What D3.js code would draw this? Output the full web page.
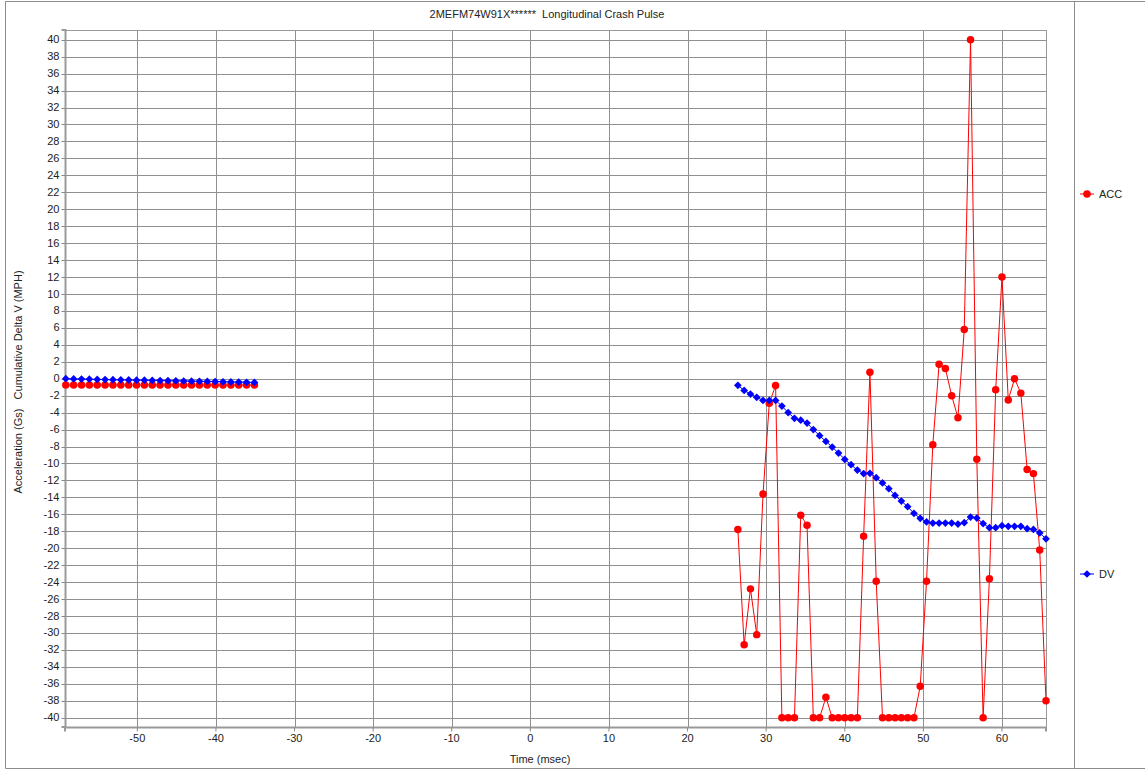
<!DOCTYPE html>
<html>
<head>
<meta charset="utf-8">
<script src="https://cdn.jsdelivr.net/npm/d3@7"></script>
<style>
  body { margin: 0; background: #fff; }
  svg text { font-family: "Liberation Sans", Arial, sans-serif; white-space: pre; }
</style>
</head>
<body>
<div id="chart"></div>
<script>
/* CONSTANTS AND GLOBALS */
const width = 1145,
  height = 769,
  margin = { top: 30, bottom: 42, left: 65, right: 99 };

const title = "2MEFM74W91X******  Longitudinal Crash Pulse";

// pre-trigger samples (1 ms) and post-trigger samples (0.8 ms)
const preTime = [-59.1, -58.1, -57.1, -56.1, -55.1, -54.1, -53.1, -52.1, -51.1, -50.1,
  -49.1, -48.1, -47.1, -46.1, -45.1, -44.1, -43.1, -42.1, -41.1, -40.1,
  -39.1, -38.1, -37.1, -36.1, -35.1];
const preAcc = [-0.75, -0.75, -0.75, -0.75, -0.75, -0.75, -0.75, -0.75, -0.75, -0.75,
  -0.75, -0.75, -0.75, -0.75, -0.75, -0.75, -0.75, -0.75, -0.75, -0.75,
  -0.75, -0.75, -0.75, -0.75, -0.75];
const preDv = [0, -0.02, -0.04, -0.06, -0.08, -0.1, -0.12, -0.13, -0.15, -0.17,
  -0.18, -0.2, -0.22, -0.24, -0.25, -0.27, -0.29, -0.3, -0.32, -0.34,
  -0.36, -0.38, -0.4, -0.42, -0.44];

const postTime = [26.4, 27.2, 28.0, 28.8, 29.6, 30.4, 31.2, 32.0, 32.8, 33.6,
  34.4, 35.2, 36.0, 36.8, 37.6, 38.4, 39.2, 40.0, 40.8, 41.6,
  42.4, 43.2, 44.0, 44.8, 45.6, 46.4, 47.2, 48.0, 48.8, 49.6,
  50.4, 51.2, 52.0, 52.8, 53.6, 54.4, 55.2, 56.0, 56.8, 57.6,
  58.4, 59.2, 60.0, 60.8, 61.6, 62.4, 63.2, 64.0, 64.8, 65.6];
const postAcc = [-17.8, -31.4, -24.8, -30.2, -13.6, -2.9, -0.8, -40, -40, -40,
  -16.1, -17.3, -40, -40, -37.6, -40, -40, -40, -40, -40,
  -18.6, 0.75, -23.9, -40, -40, -40, -40, -40, -40, -36.3,
  -23.9, -7.8, 1.7, 1.2, -2.0, -4.6, 5.8, 40, -9.5, -40,
  -23.6, -1.3, 12.0, -2.5, 0, -1.7, -10.7, -11.2, -20.2, -38.0];
const postDv = [-0.78, -1.38, -1.81, -2.2, -2.56, -2.56, -2.56, -3.23, -4.0, -4.68,
  -4.9, -5.24, -6.0, -6.73, -7.4, -8.06, -8.77, -9.52, -10.15, -10.78,
  -11.2, -11.17, -11.68, -12.3, -12.98, -13.77, -14.44, -15.1, -15.89, -16.48,
  -16.9, -17.03, -17.03, -17.03, -17.03, -17.15, -16.99, -16.32, -16.44, -17.1,
  -17.58, -17.58, -17.35, -17.42, -17.42, -17.42, -17.7, -17.78, -18.2, -18.9];

const xTicks = [-50, -40, -30, -20, -10, 0, 10, 20, 30, 40, 50, 60];
const yTicks = d3.range(-40, 41, 2);

const series = [
  { name: "ACC", color: "#ff0000", pre: preAcc, post: postAcc, symbol: d3.symbolCircle, size: 44, rotate: 0, legendY: 194 },
  { name: "DV", color: "#0000ff", pre: preDv, post: postDv, symbol: d3.symbolSquare, size: 30, rotate: 45, legendY: 574 }
];

/* SVG */
const svg = d3.select("#chart")
  .append("svg")
  .attr("width", width)
  .attr("height", height);

const plotRight = width - margin.right;  // 1046
const plotBottom = height - margin.bottom; // 727

const xScale = d3.scaleLinear()
  .domain([-59.2, 65.6])
  .range([margin.left, plotRight]);

const yScale = d3.scaleLinear()
  .domain([-41.1, 41.15])
  .range([plotBottom, margin.top]);

// outer frame
const frame = svg.append("g").attr("stroke", "#8c8c8c").attr("fill", "none");
frame.append("line").attr("x1", 5.5).attr("x2", width).attr("y1", 1.5).attr("y2", 1.5);
frame.append("line").attr("x1", 5.5).attr("x2", width).attr("y1", 768.5).attr("y2", 768.5);
frame.append("line").attr("x1", 5.5).attr("x2", 5.5).attr("y1", 1.5).attr("y2", 768.5);
frame.append("line").attr("x1", 1074.5).attr("x2", 1074.5).attr("y1", 1.5).attr("y2", 768.5);

// title
svg.append("text")
  .attr("x", 547)
  .attr("y", 18)
  .attr("text-anchor", "middle")
  .attr("font-size", 11)
  .attr("fill", "#222")
  .text(title);

// grid
svg.append("g")
  .selectAll("line")
  .data(yTicks)
  .join("line")
  .attr("x1", margin.left)
  .attr("x2", plotRight)
  .attr("y1", d => Math.round(yScale(d)) + 0.5)
  .attr("y2", d => Math.round(yScale(d)) + 0.5)
  .attr("stroke", "#8f8f8f");

svg.append("g")
  .selectAll("line")
  .data(xTicks)
  .join("line")
  .attr("x1", d => Math.round(xScale(d)) + 0.5)
  .attr("x2", d => Math.round(xScale(d)) + 0.5)
  .attr("y1", margin.top)
  .attr("y2", plotBottom)
  .attr("stroke", "#8f8f8f");

// plot border
svg.append("rect")
  .attr("x", margin.left + 0.5)
  .attr("y", margin.top + 0.5)
  .attr("width", plotRight - margin.left)
  .attr("height", plotBottom - margin.top)
  .attr("fill", "none")
  .attr("stroke", "#999");

// axes
const yAxis = svg.append("g")
  .attr("transform", `translate(${margin.left + 0.5},0)`)
  .call(d3.axisLeft(yScale).tickValues(yTicks).tickSize(4).tickPadding(2).tickFormat(d => String(d)).offset(0));

const xAxis = svg.append("g")
  .attr("transform", `translate(0,${plotBottom + 0.5})`)
  .call(d3.axisBottom(xScale).tickValues(xTicks).tickSize(4).tickPadding(3).tickFormat(d => String(d)).offset(0));

[yAxis, xAxis].forEach(ax => {
  ax.select(".domain").attr("stroke", "#999").attr("stroke-width", 2);
  ax.selectAll(".tick line").attr("stroke", "#888");
  ax.selectAll(".tick text")
    .attr("font-size", 11)
    .attr("font-family", "Liberation Sans, Arial, sans-serif")
    .attr("fill", "#222");
});
yAxis.selectAll(".tick line").attr("transform", d => `translate(0,${Math.round(yScale(d)) + 0.5 - yScale(d)})`);

// axis labels
svg.append("text")
  .attr("transform", "translate(22,382) rotate(-90)")
  .attr("text-anchor", "middle")
  .attr("font-size", 11)
  .attr("fill", "#222")
  .text("Acceleration (Gs)   Cumulative Delta V (MPH)");

svg.append("text")
  .attr("x", 540)
  .attr("y", 763)
  .attr("text-anchor", "middle")
  .attr("font-size", 11)
  .attr("fill", "#222")
  .text("Time (msec)");

/* DRAW SERIES */
const lineFunc = d3.line()
  .x(d => xScale(d.t))
  .y(d => yScale(d.v));

series.forEach(s => {
  const segments = [
    preTime.map((t, i) => ({ t: t, v: s.pre[i] })),
    postTime.map((t, i) => ({ t: t, v: s.post[i] }))
  ];
  const g = svg.append("g");
  g.selectAll("path.line")
    .data(segments)
    .join("path")
    .attr("class", "line")
    .attr("d", d => lineFunc(d))
    .attr("fill", "none")
    .attr("stroke", s.color)
    .attr("stroke-width", 1);

  g.selectAll("path.marker")
    .data(segments.flat())
    .join("path")
    .attr("class", "marker")
    .attr("transform", d => `translate(${xScale(d.t)},${yScale(d.v)}) rotate(${s.rotate})`)
    .attr("d", d3.symbol().type(s.symbol).size(s.size))
    .attr("fill", s.color);

  // legend
  const lg = svg.append("g").attr("transform", `translate(1080,${s.legendY})`);
  lg.append("line").attr("x1", 0).attr("x2", 14).attr("y1", 0).attr("y2", 0)
    .attr("stroke", s.color);
  lg.append("path").attr("transform", `translate(7,0) rotate(${s.rotate})`)
    .attr("d", d3.symbol().type(s.symbol).size(s.size))
    .attr("fill", s.color);
  lg.append("text").attr("x", 19).attr("y", 4)
    .attr("font-size", 11).attr("fill", "#222").text(s.name);
});
</script>
</body>
</html>
